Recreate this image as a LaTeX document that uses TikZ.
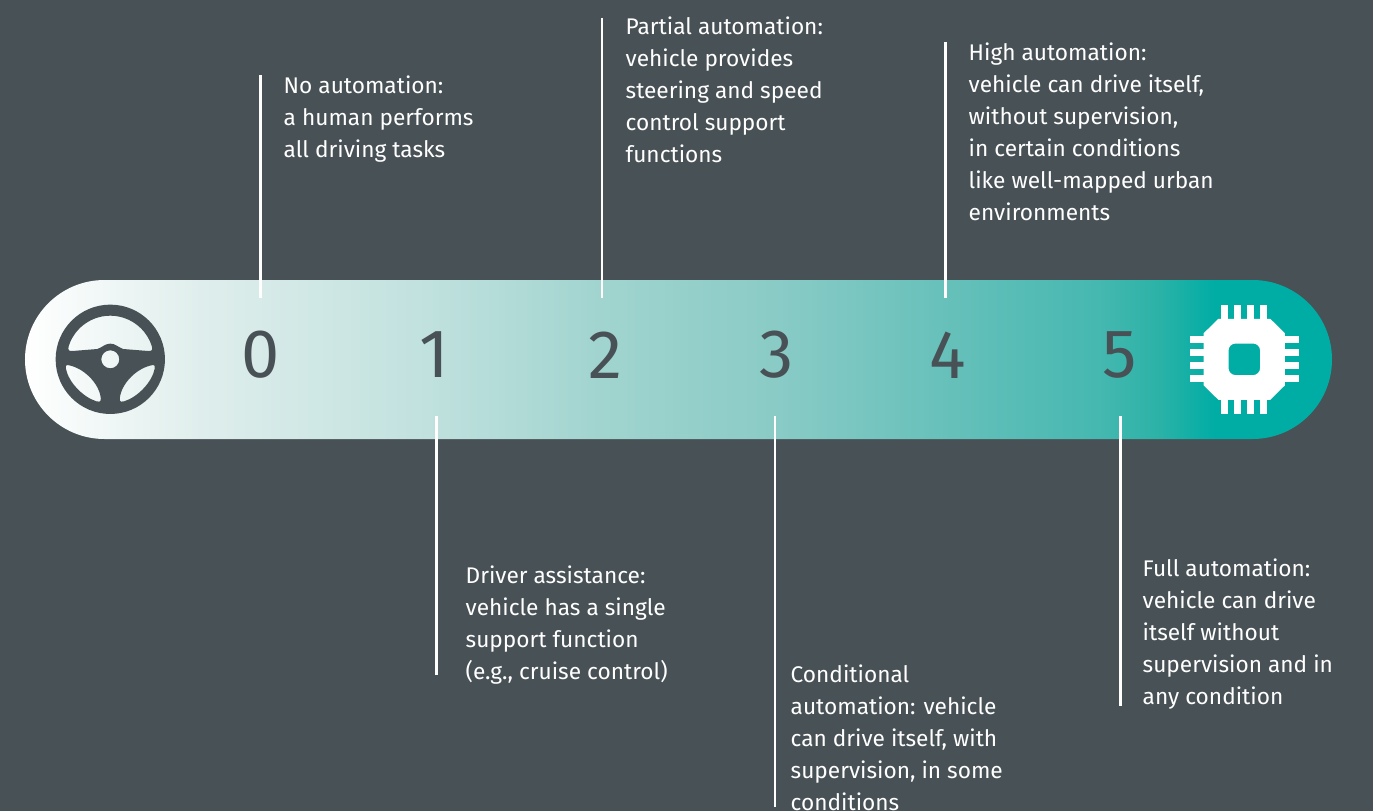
\documentclass[tikz,border=0pt]{standalone}
\usepackage{fontspec}
\setmainfont{Fira Sans}
\usetikzlibrary{positioning}
\definecolor{slate}{HTML}{485155}
\definecolor{teal}{HTML}{00ADA5}
\definecolor{tealA}{HTML}{DFEEEC}
\definecolor{tealB}{HTML}{C0E1DE}
\definecolor{tealC}{HTML}{A1D4CF}
\definecolor{tealD}{HTML}{8ACBC6}
\definecolor{tealE}{HTML}{66C0BA}
\definecolor{tealF}{HTML}{45B8B0}
\definecolor{tealG}{HTML}{2BB2A7}
% the path fills the middle of the shading: 25bp to 75bp
\pgfdeclarehorizontalshading{barshade}{100bp}{
    color(0bp)=(white);
    color(25bp)=(white);
    color(31.7bp)=(tealA);
    color(40.5bp)=(tealB);
    color(47bp)=(tealC);
    color(53.7bp)=(tealD);
    color(60.4bp)=(tealE);
    color(66.1bp)=(tealF);
    color(68.4bp)=(tealG);
    color(70.5bp)=(teal);
    color(100bp)=(teal)}
\tikzset{
    level/.style={font=\fontsize{19.5pt}{19.5pt}\selectfont, text=slate, inner sep=0pt},
    desc/.style={font=\fontsize{6.45pt}{9.1pt}\selectfont, text=white, align=left, anchor=north west, inner sep=0pt},
    tick/.style={white, line width=0.8pt}
}

\begin{document}
\begin{tikzpicture}
    \useasboundingbox [fill=slate] (0,0) rectangle (13.73,-8.11);

    % bar
    \node (bar) [rounded corners=0.795cm, minimum width=13.07cm, minimum height=1.59cm, inner sep=0pt, shading=barshade] at (6.785,-3.595) {};

    % levels
    \node (zero) [level] at (2.61,-3.55) {0};
    \node (one) [level] at (4.34,-3.55) {1};
    \node (two) [level] at (6.05,-3.55) {2};
    \node (three) [level] at (7.77,-3.55) {3};
    \node (four) [level] at (9.48,-3.55) {4};
    \node (five) [level] at (11.20,-3.55) {5};

    % steering wheel
    \begin{scope}[shift={(1.103,-3.593)}, x=0.01cm, y=0.01cm]
        \fill[slate, even odd rule] (0,0) circle (54.7)
            (0,0) circle (9)
            (-41.5,13.5) arc (162:18:43.6) .. controls (43,9) and (41,8) .. (38,8.3)
                -- (13,10.3) .. controls (8,12) and (5,15.7) .. (0,15.7) .. controls (-5,15.7) and (-8,12) .. (-13,10.3)
                -- (-38,8.3) .. controls (-41,8) and (-43,9) .. (-41.5,13.5) -- cycle
            (-43,-5.7) .. controls (-27,-8) and (-11,-24) .. (-9.5,-39) .. controls (-9,-43) and (-12,-43) .. (-14,-42) .. controls (-27,-38) and (-42,-23) .. (-44.5,-9) .. controls (-45,-6.5) and (-44,-5.7) .. (-43,-5.7) -- cycle
            (43,-5.7) .. controls (27,-8) and (11,-24) .. (9.5,-39) .. controls (9,-43) and (12,-43) .. (14,-42) .. controls (27,-38) and (42,-23) .. (44.5,-9) .. controls (45,-6.5) and (44,-5.7) .. (43,-5.7) -- cycle;
    \end{scope}

    % chip
    \begin{scope}[shift={(12.443,-3.593)}, x=0.01cm, y=0.01cm]
        \fill[white, even odd rule] (-26,40.5) -- (26,40.5) -- (40.7,26) -- (40.7,-26) -- (26,-40.5) -- (-26,-40.5) -- (-40.7,-26) -- (-40.7,26) -- cycle
            [rounded corners=2] (-15.8,-15.8) rectangle (15.8,15.8);
        \foreach \p in {-19.7,-6.6,6.6,19.7} {
            \fill[white] (\p-3.5,40) rectangle (\p+3.5,54.5);
            \fill[white] (\p-3.5,-40) rectangle (\p+3.5,-54.5);
            \fill[white] (40,\p-3.5) rectangle (54.5,\p+3.5);
            \fill[white] (-40,\p-3.5) rectangle (-54.5,\p+3.5);
        }
    \end{scope}

    % ticks
    \coordinate (a0) at (2.607,-0.75);  \coordinate (b0) at (2.607,-2.98);
    \coordinate (a2) at (6.02,-0.18);   \coordinate (b2) at (6.02,-2.98);
    \coordinate (a4) at (9.453,-0.42);  \coordinate (b4) at (9.453,-2.98);
    \coordinate (a1) at (4.367,-4.16);  \coordinate (b1) at (4.367,-6.75);
    \coordinate (a3) at (7.75,-4.16);   \coordinate (b3) at (7.75,-8.07);
    \coordinate (a5) at (11.203,-4.16); \coordinate (b5) at (11.203,-7.06);
    \foreach \i in {0,...,5} \draw[tick] (a\i) -- (b\i);

    % text
    \node (nolevel) [desc] at (2.83,-0.75) {No automation:\\a human performs\\all driving tasks};
    \node (partial) [desc] at (6.25,-0.16) {Partial automation:\\vehicle provides\\steering and speed\\control support\\functions};
    \node (high) [desc] at (9.68,-0.42) {High automation:\\vehicle can drive itself,\\without supervision,\\in certain conditions\\like well-mapped urban\\environments};
    \node (assist) [desc] at (4.65,-5.65) {Driver assistance:\\vehicle has a single\\support function\\(e.g., cruise control)};
    \node (cond) [desc] at (7.90,-6.64) {Conditional\\automation: vehicle\\can drive itself, with\\supervision, in some\\conditions};
    \node (full) [desc] at (11.42,-5.58) {Full automation:\\vehicle can drive\\itself without\\supervision and in\\any condition};
\end{tikzpicture}
\end{document}
